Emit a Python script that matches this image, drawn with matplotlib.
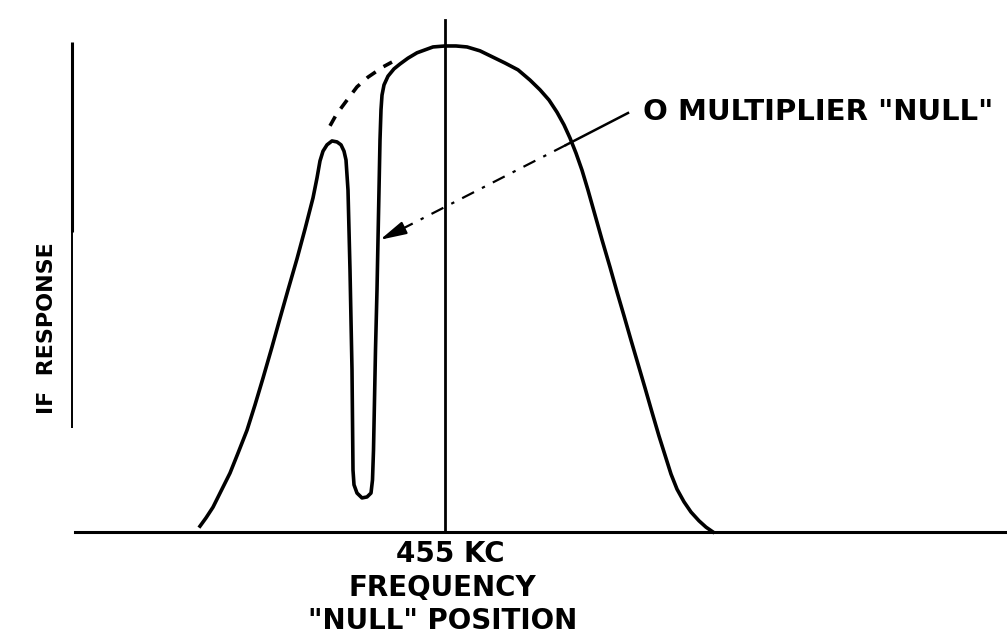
import matplotlib
matplotlib.use("Agg")
import matplotlib.pyplot as plt

# ---- data (frequency in kc, relative IF response in %) ----
freq_kc = [445.20, 445.44, 445.72, 446.04, 446.40, 446.72, 447.08, 447.40, 447.72, 448.08,
           448.40, 448.72, 449.08, 449.40, 449.72, 449.88, 450.00, 450.12, 450.28, 450.48,
           450.68, 450.84, 450.96, 451.04, 451.08, 451.12, 451.16, 451.20, 451.24, 451.28,
           451.30, 451.32, 451.36, 451.48, 451.68, 451.88, 452.04, 452.10, 452.14, 452.18,
           452.22, 452.28, 452.32, 452.36, 452.40, 452.44, 452.48, 452.56, 452.72, 452.96,
           453.20, 453.52, 453.88, 454.20, 454.52, 455.00, 455.44, 455.88, 456.40, 456.92,
           457.40, 457.92, 458.40, 458.80, 459.16, 459.48, 459.76, 460.00, 460.24, 460.48,
           460.72, 461.00, 461.28, 461.60, 461.88, 462.16, 462.44, 462.72, 463.00, 463.28,
           463.56, 463.80, 464.04, 464.28, 464.56, 464.84, 465.16, 465.44, 465.72]
response = [1.2, 2.9, 5.1, 8.4, 12.1, 16.2, 20.9, 26.1, 31.6, 38.0,
            43.9, 49.7, 56.1, 62.2, 68.6, 72.7, 76.2, 78.2, 79.5, 80.3,
            80.1, 79.5, 78.2, 76.4, 73.3, 70.2, 62.0, 53.8, 43.5, 33.3,
            23.0, 12.7, 9.7, 8.0, 7.0, 7.2, 8.0, 10.7, 16.8, 27.1,
            37.4, 49.7, 60.0, 70.2, 80.5, 86.7, 89.7, 91.8, 93.6, 95.1,
            96.1, 97.3, 98.4, 99.0, 99.6, 99.8, 99.8, 99.6, 98.8, 97.5,
            96.3, 94.9, 92.8, 90.8, 88.7, 86.2, 83.6, 80.9, 77.8, 74.3,
            70.2, 65.1, 60.0, 54.4, 49.3, 44.4, 39.4, 34.5, 29.6, 24.6,
            19.7, 15.8, 11.9, 8.8, 6.2, 4.1, 2.3, 1.0, 0.0]

# response without the Q-multiplier null (dashed part)
ideal_freq_kc = [450.4, 450.64, 450.88, 451.2, 451.48, 451.92, 452.52, 452.88]
ideal_response = [83.4, 85.6, 87.3, 89.5, 91.4, 93.4, 95.5, 96.5]

null_freq = 452.4
null_arrow_resp = 60.0
center_freq = 455

label_note = 'O MULTIPLIER "NULL"'
label_y = "IF  RESPONSE"
label_x1 = "455 KC"
label_x2 = "FREQUENCY"
label_x3 = '"NULL" POSITION'

W, H = 1007, 634
fig = plt.figure(figsize=(W / 100, H / 100), dpi=100)
ax = fig.add_axes([0, 0, 1, 1])
ax.set_xlim(437.2, 477.48)
ax.set_ylim(-20.94, 109.24)
ax.axis("off")

ink = "black"

# main response curve
ax.plot(freq_kc, response, color=ink, lw=2.6, solid_joinstyle="round")
# dashed ideal curve
ax.plot(ideal_freq_kc, ideal_response, color=ink, lw=2.6, linestyle=(0, (3, 2.6)))

# baseline (frequency axis)
ax.axhline(0, xmin=75 / W, xmax=1.0, color=ink, lw=2.2)
# center frequency marker
ax.axvline(center_freq, ymin=(H - 532) / H, ymax=(H - 20) / H, color=ink, lw=2.0)
# response axis line at left
ax.plot([72 / W, 72 / W], [1 - 42 / H, 1 - 232 / H], transform=ax.transAxes,
        color=ink, lw=2.2, solid_capstyle="butt")
ax.plot([72 / W, 72 / W], [1 - 232 / H, 1 - 428 / H], transform=ax.transAxes,
        color=ink, lw=1.4, solid_capstyle="butt")

# leader to the null: solid near the label, dash-dot toward the curve, filled head
p_tail = (628 / W, 1 - 113 / H)
p_kink = (566 / W, 1 - 145 / H)
p_head = (402 / W, 1 - 229 / H)
ax.plot([p_tail[0], p_kink[0]], [p_tail[1], p_kink[1]], transform=ax.transAxes,
        color=ink, lw=1.8)
ax.plot([p_kink[0], p_head[0]], [p_kink[1], p_head[1]], transform=ax.transAxes,
        color=ink, lw=1.6, linestyle=(0, (6, 4, 1.5, 4)))
ax.annotate("", xy=(null_freq, null_arrow_resp), xycoords="data",
            xytext=p_head, textcoords="axes fraction",
            arrowprops=dict(arrowstyle="-|>,head_length=1.6,head_width=0.4",
                            color=ink, lw=1.6, shrinkA=0, shrinkB=0))

font = dict(family="DejaVu Sans", weight="bold", color=ink)
fig.text(643 / W, 1 - 112 / H, label_note, ha="left", va="center", fontsize=21, **font)
fig.text(450 / W, 1 - 554 / H, label_x1, ha="center", va="center", fontsize=20, **font)
fig.text(442 / W, 1 - 587.5 / H, label_x2, ha="center", va="center", fontsize=20, **font)
fig.text(443 / W, 1 - 621 / H, label_x3, ha="center", va="center", fontsize=20, **font)
fig.text(47 / W, 1 - 328 / H, label_y, ha="center", va="center", rotation=90,
         fontsize=16, **font)

fig.savefig("out.png", dpi=100, facecolor="white")
